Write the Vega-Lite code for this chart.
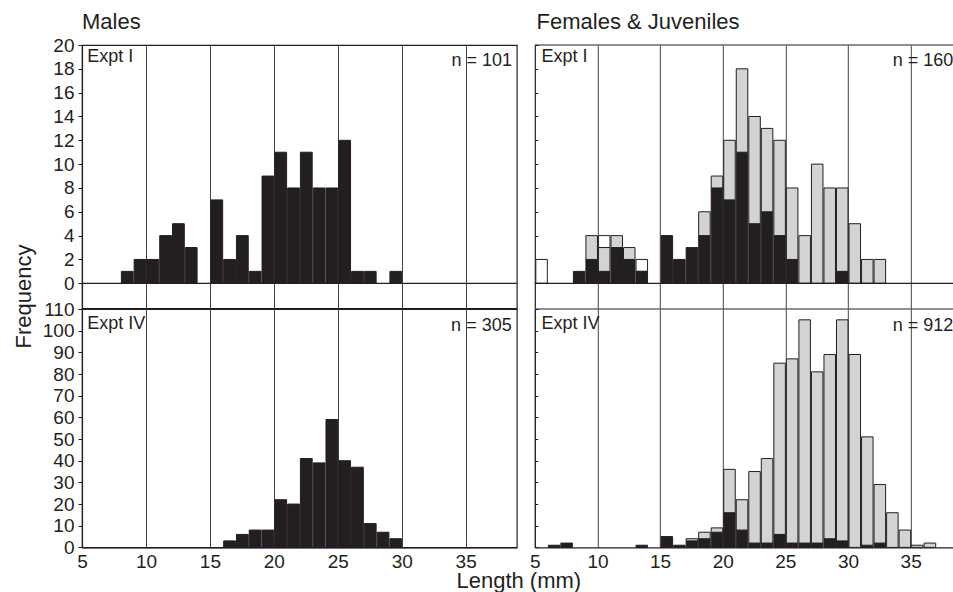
{
  "$schema": "https://vega.github.io/schema/vega-lite/v6.json",
  "background": "white",
  "padding": {"left": 12, "top": 10, "right": 0, "bottom": 0},
  "autosize": {"type": "pad"},
  "config": {
    "font": "Liberation Sans",
    "view": {"stroke": "#231f20", "strokeWidth": 1.2},
    "axis": {
      "labelFont": "Liberation Sans",
      "labelFontSize": 19,
      "labelColor": "#231f20",
      "tickColor": "#231f20",
      "domainColor": "#231f20",
      "domainWidth": 1.2,
      "gridColor": "#444444",
      "gridWidth": 1,
      "gridOpacity": 1,
      "titleFont": "Liberation Sans",
      "titleFontSize": 22,
      "titleFontWeight": "normal",
      "titleColor": "#231f20",
      "labelFlush": false,
      "labelOverlap": false
    }
  },
  "datasets": {
    "hist": [
      {"sex": "M", "expt": "I", "lo": 8, "hi": 9, "group": "Males", "count": 1},
      {"sex": "M", "expt": "I", "lo": 9, "hi": 10, "group": "Males", "count": 2},
      {"sex": "M", "expt": "I", "lo": 10, "hi": 11, "group": "Males", "count": 2},
      {"sex": "M", "expt": "I", "lo": 11, "hi": 12, "group": "Males", "count": 4},
      {"sex": "M", "expt": "I", "lo": 12, "hi": 13, "group": "Males", "count": 5},
      {"sex": "M", "expt": "I", "lo": 13, "hi": 14, "group": "Males", "count": 3},
      {"sex": "M", "expt": "I", "lo": 15, "hi": 16, "group": "Males", "count": 7},
      {"sex": "M", "expt": "I", "lo": 16, "hi": 17, "group": "Males", "count": 2},
      {"sex": "M", "expt": "I", "lo": 17, "hi": 18, "group": "Males", "count": 4},
      {"sex": "M", "expt": "I", "lo": 18, "hi": 19, "group": "Males", "count": 1},
      {"sex": "M", "expt": "I", "lo": 19, "hi": 20, "group": "Males", "count": 9},
      {"sex": "M", "expt": "I", "lo": 20, "hi": 21, "group": "Males", "count": 11},
      {"sex": "M", "expt": "I", "lo": 21, "hi": 22, "group": "Males", "count": 8},
      {"sex": "M", "expt": "I", "lo": 22, "hi": 23, "group": "Males", "count": 11},
      {"sex": "M", "expt": "I", "lo": 23, "hi": 24, "group": "Males", "count": 8},
      {"sex": "M", "expt": "I", "lo": 24, "hi": 25, "group": "Males", "count": 8},
      {"sex": "M", "expt": "I", "lo": 25, "hi": 26, "group": "Males", "count": 12},
      {"sex": "M", "expt": "I", "lo": 26, "hi": 27, "group": "Males", "count": 1},
      {"sex": "M", "expt": "I", "lo": 27, "hi": 28, "group": "Males", "count": 1},
      {"sex": "M", "expt": "I", "lo": 29, "hi": 30, "group": "Males", "count": 1},

      {"sex": "M", "expt": "IV", "lo": 16, "hi": 17, "group": "Males", "count": 3},
      {"sex": "M", "expt": "IV", "lo": 17, "hi": 18, "group": "Males", "count": 6},
      {"sex": "M", "expt": "IV", "lo": 18, "hi": 19, "group": "Males", "count": 8},
      {"sex": "M", "expt": "IV", "lo": 19, "hi": 20, "group": "Males", "count": 8},
      {"sex": "M", "expt": "IV", "lo": 20, "hi": 21, "group": "Males", "count": 22},
      {"sex": "M", "expt": "IV", "lo": 21, "hi": 22, "group": "Males", "count": 20},
      {"sex": "M", "expt": "IV", "lo": 22, "hi": 23, "group": "Males", "count": 41},
      {"sex": "M", "expt": "IV", "lo": 23, "hi": 24, "group": "Males", "count": 39},
      {"sex": "M", "expt": "IV", "lo": 24, "hi": 25, "group": "Males", "count": 59},
      {"sex": "M", "expt": "IV", "lo": 25, "hi": 26, "group": "Males", "count": 40},
      {"sex": "M", "expt": "IV", "lo": 26, "hi": 27, "group": "Males", "count": 37},
      {"sex": "M", "expt": "IV", "lo": 27, "hi": 28, "group": "Males", "count": 11},
      {"sex": "M", "expt": "IV", "lo": 28, "hi": 29, "group": "Males", "count": 7},
      {"sex": "M", "expt": "IV", "lo": 29, "hi": 30, "group": "Males", "count": 4},

      {"sex": "FJ", "expt": "I", "lo": 5, "hi": 6, "group": "Unsexed", "count": 2},
      {"sex": "FJ", "expt": "I", "lo": 10, "hi": 11, "group": "Unsexed", "count": 1},
      {"sex": "FJ", "expt": "I", "lo": 13, "hi": 14, "group": "Unsexed", "count": 1},
      {"sex": "FJ", "expt": "I", "lo": 8, "hi": 9, "group": "Females", "count": 1},
      {"sex": "FJ", "expt": "I", "lo": 9, "hi": 10, "group": "Females", "count": 2},
      {"sex": "FJ", "expt": "I", "lo": 10, "hi": 11, "group": "Females", "count": 1},
      {"sex": "FJ", "expt": "I", "lo": 11, "hi": 12, "group": "Females", "count": 3},
      {"sex": "FJ", "expt": "I", "lo": 12, "hi": 13, "group": "Females", "count": 2},
      {"sex": "FJ", "expt": "I", "lo": 13, "hi": 14, "group": "Females", "count": 1},
      {"sex": "FJ", "expt": "I", "lo": 15, "hi": 16, "group": "Females", "count": 4},
      {"sex": "FJ", "expt": "I", "lo": 16, "hi": 17, "group": "Females", "count": 2},
      {"sex": "FJ", "expt": "I", "lo": 17, "hi": 18, "group": "Females", "count": 3},
      {"sex": "FJ", "expt": "I", "lo": 18, "hi": 19, "group": "Females", "count": 4},
      {"sex": "FJ", "expt": "I", "lo": 19, "hi": 20, "group": "Females", "count": 8},
      {"sex": "FJ", "expt": "I", "lo": 20, "hi": 21, "group": "Females", "count": 7},
      {"sex": "FJ", "expt": "I", "lo": 21, "hi": 22, "group": "Females", "count": 11},
      {"sex": "FJ", "expt": "I", "lo": 22, "hi": 23, "group": "Females", "count": 5},
      {"sex": "FJ", "expt": "I", "lo": 23, "hi": 24, "group": "Females", "count": 6},
      {"sex": "FJ", "expt": "I", "lo": 24, "hi": 25, "group": "Females", "count": 4},
      {"sex": "FJ", "expt": "I", "lo": 25, "hi": 26, "group": "Females", "count": 2},
      {"sex": "FJ", "expt": "I", "lo": 29, "hi": 30, "group": "Females", "count": 1},
      {"sex": "FJ", "expt": "I", "lo": 9, "hi": 10, "group": "Juveniles", "count": 2},
      {"sex": "FJ", "expt": "I", "lo": 10, "hi": 11, "group": "Juveniles", "count": 2},
      {"sex": "FJ", "expt": "I", "lo": 11, "hi": 12, "group": "Juveniles", "count": 1},
      {"sex": "FJ", "expt": "I", "lo": 12, "hi": 13, "group": "Juveniles", "count": 1},
      {"sex": "FJ", "expt": "I", "lo": 18, "hi": 19, "group": "Juveniles", "count": 2},
      {"sex": "FJ", "expt": "I", "lo": 19, "hi": 20, "group": "Juveniles", "count": 1},
      {"sex": "FJ", "expt": "I", "lo": 20, "hi": 21, "group": "Juveniles", "count": 5},
      {"sex": "FJ", "expt": "I", "lo": 21, "hi": 22, "group": "Juveniles", "count": 7},
      {"sex": "FJ", "expt": "I", "lo": 22, "hi": 23, "group": "Juveniles", "count": 9},
      {"sex": "FJ", "expt": "I", "lo": 23, "hi": 24, "group": "Juveniles", "count": 7},
      {"sex": "FJ", "expt": "I", "lo": 24, "hi": 25, "group": "Juveniles", "count": 8},
      {"sex": "FJ", "expt": "I", "lo": 25, "hi": 26, "group": "Juveniles", "count": 6},
      {"sex": "FJ", "expt": "I", "lo": 26, "hi": 27, "group": "Juveniles", "count": 4},
      {"sex": "FJ", "expt": "I", "lo": 27, "hi": 28, "group": "Juveniles", "count": 10},
      {"sex": "FJ", "expt": "I", "lo": 28, "hi": 29, "group": "Juveniles", "count": 8},
      {"sex": "FJ", "expt": "I", "lo": 29, "hi": 30, "group": "Juveniles", "count": 7},
      {"sex": "FJ", "expt": "I", "lo": 30, "hi": 31, "group": "Juveniles", "count": 5},
      {"sex": "FJ", "expt": "I", "lo": 31, "hi": 32, "group": "Juveniles", "count": 2},
      {"sex": "FJ", "expt": "I", "lo": 32, "hi": 33, "group": "Juveniles", "count": 2},

      {"sex": "FJ", "expt": "IV", "lo": 6, "hi": 7, "group": "Females", "count": 1},
      {"sex": "FJ", "expt": "IV", "lo": 7, "hi": 8, "group": "Females", "count": 2},
      {"sex": "FJ", "expt": "IV", "lo": 13, "hi": 14, "group": "Females", "count": 1},
      {"sex": "FJ", "expt": "IV", "lo": 15, "hi": 16, "group": "Females", "count": 5},
      {"sex": "FJ", "expt": "IV", "lo": 16, "hi": 17, "group": "Females", "count": 1},
      {"sex": "FJ", "expt": "IV", "lo": 17, "hi": 18, "group": "Females", "count": 3},
      {"sex": "FJ", "expt": "IV", "lo": 18, "hi": 19, "group": "Females", "count": 4},
      {"sex": "FJ", "expt": "IV", "lo": 19, "hi": 20, "group": "Females", "count": 7},
      {"sex": "FJ", "expt": "IV", "lo": 20, "hi": 21, "group": "Females", "count": 16},
      {"sex": "FJ", "expt": "IV", "lo": 21, "hi": 22, "group": "Females", "count": 8},
      {"sex": "FJ", "expt": "IV", "lo": 22, "hi": 23, "group": "Females", "count": 2},
      {"sex": "FJ", "expt": "IV", "lo": 23, "hi": 24, "group": "Females", "count": 2},
      {"sex": "FJ", "expt": "IV", "lo": 24, "hi": 25, "group": "Females", "count": 6},
      {"sex": "FJ", "expt": "IV", "lo": 25, "hi": 26, "group": "Females", "count": 2},
      {"sex": "FJ", "expt": "IV", "lo": 26, "hi": 27, "group": "Females", "count": 2},
      {"sex": "FJ", "expt": "IV", "lo": 27, "hi": 28, "group": "Females", "count": 2},
      {"sex": "FJ", "expt": "IV", "lo": 28, "hi": 29, "group": "Females", "count": 4},
      {"sex": "FJ", "expt": "IV", "lo": 29, "hi": 30, "group": "Females", "count": 3},
      {"sex": "FJ", "expt": "IV", "lo": 31, "hi": 32, "group": "Females", "count": 1},
      {"sex": "FJ", "expt": "IV", "lo": 32, "hi": 33, "group": "Females", "count": 2},
      {"sex": "FJ", "expt": "IV", "lo": 17, "hi": 18, "group": "Juveniles", "count": 1},
      {"sex": "FJ", "expt": "IV", "lo": 18, "hi": 19, "group": "Juveniles", "count": 3},
      {"sex": "FJ", "expt": "IV", "lo": 19, "hi": 20, "group": "Juveniles", "count": 2},
      {"sex": "FJ", "expt": "IV", "lo": 20, "hi": 21, "group": "Juveniles", "count": 20},
      {"sex": "FJ", "expt": "IV", "lo": 21, "hi": 22, "group": "Juveniles", "count": 14},
      {"sex": "FJ", "expt": "IV", "lo": 22, "hi": 23, "group": "Juveniles", "count": 33},
      {"sex": "FJ", "expt": "IV", "lo": 23, "hi": 24, "group": "Juveniles", "count": 39},
      {"sex": "FJ", "expt": "IV", "lo": 24, "hi": 25, "group": "Juveniles", "count": 79},
      {"sex": "FJ", "expt": "IV", "lo": 25, "hi": 26, "group": "Juveniles", "count": 85},
      {"sex": "FJ", "expt": "IV", "lo": 26, "hi": 27, "group": "Juveniles", "count": 103},
      {"sex": "FJ", "expt": "IV", "lo": 27, "hi": 28, "group": "Juveniles", "count": 79},
      {"sex": "FJ", "expt": "IV", "lo": 28, "hi": 29, "group": "Juveniles", "count": 85},
      {"sex": "FJ", "expt": "IV", "lo": 29, "hi": 30, "group": "Juveniles", "count": 102},
      {"sex": "FJ", "expt": "IV", "lo": 30, "hi": 31, "group": "Juveniles", "count": 89},
      {"sex": "FJ", "expt": "IV", "lo": 31, "hi": 32, "group": "Juveniles", "count": 50},
      {"sex": "FJ", "expt": "IV", "lo": 32, "hi": 33, "group": "Juveniles", "count": 27},
      {"sex": "FJ", "expt": "IV", "lo": 33, "hi": 34, "group": "Juveniles", "count": 16},
      {"sex": "FJ", "expt": "IV", "lo": 34, "hi": 35, "group": "Juveniles", "count": 8},
      {"sex": "FJ", "expt": "IV", "lo": 35, "hi": 36, "group": "Juveniles", "count": 1},
      {"sex": "FJ", "expt": "IV", "lo": 36, "hi": 37, "group": "Juveniles", "count": 2}
    ]
  },
  "bounds": "flush",
  "columns": 2,
  "spacing": {"row": 0, "column": 17.8},
  "concat": [
    {
      "width": 434.8,
      "height": 263.3,
      "resolve": {"axis": {"x": "independent", "y": "independent"}},
      "layer": [
        {
          "data": {"name": "hist"},
          "transform": [{"filter": "datum.sex === 'M' && datum.expt === 'I'"}],
          "mark": {"type": "bar", "stroke": "#231f20", "strokeWidth": 1},
          "encoding": {
            "x": {"field": "lo", "type": "quantitative", "bin": {"binned": true, "step": 1}, "scale": {"domain": [5, 39], "nice": false, "zero": false},
                  "axis": {"labels": false, "ticks": false, "domain": false, "grid": true, "values": [10, 15, 20, 25, 30, 35], "title": null}},
            "x2": {"field": "hi"},
            "y": {"field": "count", "type": "quantitative", "stack": "zero", "scale": {"domain": [-2.1, 20], "nice": false, "zero": false},
                  "axis": {"values": [0, 2, 4, 6, 8, 10, 12, 14, 16, 18, 20], "tickSize": 4, "labelPadding": 4, "grid": false, "labelOverlap": false, "labelBound": false,
                           "title": "Frequency", "titleX": -51.4, "titleY": 251, "titleAngle": 270, "titleBaseline": "alphabetic", "titleAlign": "center"}},
            "color": {"field": "group", "type": "nominal", "scale": {"domain": ["Males", "Females", "Juveniles", "Unsexed"], "range": ["#231f20", "#231f20", "#d1d3d4", "#ffffff"]}, "legend": null},
            "order": {"field": "group", "sort": "ascending"}
          }
        },
        {
          "data": {"values": [{}]},
          "mark": {"type": "rule", "color": "#231f20", "strokeWidth": 1.2},
          "encoding": {"y": {"datum": 0, "type": "quantitative", "axis": null}}
        },
        {
          "data": {"values": [{"label": "Males"}]},
          "mark": {"type": "text", "align": "left", "baseline": "alphabetic", "fontSize": 22, "color": "#231f20"},
          "encoding": {"x": {"datum": 5, "type": "quantitative", "axis": null}, "y": {"datum": 21.32, "type": "quantitative", "axis": null}, "text": {"field": "label"}}
        },
        {
          "data": {"values": [{"label": "Expt I"}]},
          "mark": {"type": "text", "align": "left", "baseline": "alphabetic", "fontSize": 18, "color": "#231f20"},
          "encoding": {"x": {"datum": 5.41, "type": "quantitative", "axis": null}, "y": {"datum": 18.55, "type": "quantitative", "axis": null}, "text": {"field": "label"}}
        },
        {
          "data": {"values": [{"label": "n = 101"}]},
          "mark": {"type": "text", "align": "right", "baseline": "alphabetic", "fontSize": 18, "color": "#231f20"},
          "encoding": {"x": {"datum": 38.62, "type": "quantitative", "axis": null}, "y": {"datum": 18.24, "type": "quantitative", "axis": null}, "text": {"field": "label"}}
        }
      ]
    },
    {
      "width": 418.7,
      "height": 263.3,
      "view": {"stroke": null},
      "resolve": {"axis": {"x": "independent", "y": "independent"}},
      "layer": [
        {
          "data": {"name": "hist"},
          "transform": [{"filter": "datum.sex === 'FJ' && datum.expt === 'I'"}],
          "mark": {"type": "bar", "stroke": "#231f20", "strokeWidth": 1},
          "encoding": {
            "x": {"field": "lo", "type": "quantitative", "bin": {"binned": true, "step": 1}, "scale": {"domain": [5, 38.42], "nice": false, "zero": false},
                  "axis": {"labels": false, "ticks": false, "domain": false, "grid": true, "values": [10, 15, 20, 25, 30, 35], "title": null}},
            "x2": {"field": "hi"},
            "y": {"field": "count", "type": "quantitative", "stack": "zero", "scale": {"domain": [-2.1, 20], "nice": false, "zero": false},
                  "axis": {"values": [0, 2, 4, 6, 8, 10, 12, 14, 16, 18, 20], "tickSize": -3, "labels": false, "grid": false, "title": null}},
            "color": {"field": "group", "type": "nominal", "scale": {"domain": ["Males", "Females", "Juveniles", "Unsexed"], "range": ["#231f20", "#231f20", "#d1d3d4", "#ffffff"]}, "legend": null},
            "order": {"field": "group", "sort": "ascending"}
          }
        },
        {
          "data": {"values": [{}]},
          "mark": {"type": "rule", "color": "#231f20", "strokeWidth": 1.2},
          "encoding": {"y": {"datum": 0, "type": "quantitative", "axis": null}}
        },
        {
          "data": {"values": [{}]},
          "mark": {"type": "rule", "color": "#231f20", "strokeWidth": 1.2},
          "encoding": {"y": {"datum": 20, "type": "quantitative", "axis": null}}
        },
        {
          "data": {"values": [{"label": "Females & Juveniles"}]},
          "mark": {"type": "text", "align": "left", "baseline": "alphabetic", "fontSize": 22, "color": "#231f20"},
          "encoding": {"x": {"datum": 5.14, "type": "quantitative", "axis": null}, "y": {"datum": 21.32, "type": "quantitative", "axis": null}, "text": {"field": "label"}}
        },
        {
          "data": {"values": [{"label": "Expt I"}]},
          "mark": {"type": "text", "align": "left", "baseline": "alphabetic", "fontSize": 18, "color": "#231f20"},
          "encoding": {"x": {"datum": 5.53, "type": "quantitative", "axis": null}, "y": {"datum": 18.55, "type": "quantitative", "axis": null}, "text": {"field": "label"}}
        },
        {
          "data": {"values": [{"label": "n = 160"}]},
          "mark": {"type": "text", "align": "right", "baseline": "alphabetic", "fontSize": 18, "color": "#231f20"},
          "encoding": {"x": {"datum": 38.4, "type": "quantitative", "axis": null}, "y": {"datum": 18.24, "type": "quantitative", "axis": null}, "text": {"field": "label"}}
        }
      ]
    },
    {
      "width": 434.8,
      "height": 238.4,
      "resolve": {"axis": {"x": "independent", "y": "independent"}},
      "layer": [
        {
          "data": {"name": "hist"},
          "transform": [{"filter": "datum.sex === 'M' && datum.expt === 'IV'"}],
          "mark": {"type": "bar", "stroke": "#231f20", "strokeWidth": 1},
          "encoding": {
            "x": {"field": "lo", "type": "quantitative", "bin": {"binned": true, "step": 1}, "scale": {"domain": [5, 39], "nice": false, "zero": false},
                  "axis": {"ticks": false, "labelPadding": 5, "domain": true, "grid": true, "values": [5, 10, 15, 20, 25, 30, 35], "labelOverlap": false, "labelFlush": false,
                           "title": "Length (mm)", "titleX": 436.3, "titleY": 39.7, "titleBaseline": "alphabetic", "titleAlign": "center"}},
            "x2": {"field": "hi"},
            "y": {"field": "count", "type": "quantitative", "stack": "zero", "scale": {"domain": [0, 110], "nice": false, "zero": false},
                  "axis": {"values": [0, 10, 20, 30, 40, 50, 60, 70, 80, 90, 100, 110], "tickSize": 4, "labelPadding": 4, "grid": false, "labelOverlap": false, "labelBound": false, "title": null}},
            "color": {"field": "group", "type": "nominal", "scale": {"domain": ["Males", "Females", "Juveniles", "Unsexed"], "range": ["#231f20", "#231f20", "#d1d3d4", "#ffffff"]}, "legend": null},
            "order": {"field": "group", "sort": "ascending"}
          }
        },
        {
          "data": {"values": [{"label": "Expt IV"}]},
          "mark": {"type": "text", "align": "left", "baseline": "alphabetic", "fontSize": 18, "color": "#231f20"},
          "encoding": {"x": {"datum": 5.41, "type": "quantitative", "axis": null}, "y": {"datum": 101, "type": "quantitative", "axis": null}, "text": {"field": "label"}}
        },
        {
          "data": {"values": [{"label": "n = 305"}]},
          "mark": {"type": "text", "align": "right", "baseline": "alphabetic", "fontSize": 18, "color": "#231f20"},
          "encoding": {"x": {"datum": 38.6, "type": "quantitative", "axis": null}, "y": {"datum": 100, "type": "quantitative", "axis": null}, "text": {"field": "label"}}
        }
      ]
    },
    {
      "width": 418.7,
      "height": 238.4,
      "view": {"stroke": null},
      "resolve": {"axis": {"x": "independent", "y": "independent"}},
      "layer": [
        {
          "data": {"name": "hist"},
          "transform": [{"filter": "datum.sex === 'FJ' && datum.expt === 'IV'"}],
          "mark": {"type": "bar", "stroke": "#231f20", "strokeWidth": 1},
          "encoding": {
            "x": {"field": "lo", "type": "quantitative", "bin": {"binned": true, "step": 1}, "scale": {"domain": [5, 38.42], "nice": false, "zero": false},
                  "axis": {"ticks": false, "labelPadding": 5, "domain": true, "grid": true, "values": [5, 10, 15, 20, 25, 30, 35], "labelOverlap": false, "labelFlush": false, "title": null}},
            "x2": {"field": "hi"},
            "y": {"field": "count", "type": "quantitative", "stack": "zero", "scale": {"domain": [0, 110], "nice": false, "zero": false},
                  "axis": {"values": [0, 10, 20, 30, 40, 50, 60, 70, 80, 90, 100, 110], "tickSize": -3, "labels": false, "grid": false, "title": null}},
            "color": {"field": "group", "type": "nominal", "scale": {"domain": ["Males", "Females", "Juveniles", "Unsexed"], "range": ["#231f20", "#231f20", "#d1d3d4", "#ffffff"]}, "legend": null},
            "order": {"field": "group", "sort": "ascending"}
          }
        },
        {
          "data": {"values": [{}]},
          "mark": {"type": "rule", "color": "#231f20", "strokeWidth": 1.2},
          "encoding": {"y": {"datum": 110, "type": "quantitative", "axis": null}}
        },
        {
          "data": {"values": [{"label": "Expt IV"}]},
          "mark": {"type": "text", "align": "left", "baseline": "alphabetic", "fontSize": 18, "color": "#231f20"},
          "encoding": {"x": {"datum": 5.53, "type": "quantitative", "axis": null}, "y": {"datum": 100.8, "type": "quantitative", "axis": null}, "text": {"field": "label"}}
        },
        {
          "data": {"values": [{"label": "n = 912"}]},
          "mark": {"type": "text", "align": "right", "baseline": "alphabetic", "fontSize": 18, "color": "#231f20"},
          "encoding": {"x": {"datum": 38.4, "type": "quantitative", "axis": null}, "y": {"datum": 99.7, "type": "quantitative", "axis": null}, "text": {"field": "label"}}
        }
      ]
    }
  ]
}
